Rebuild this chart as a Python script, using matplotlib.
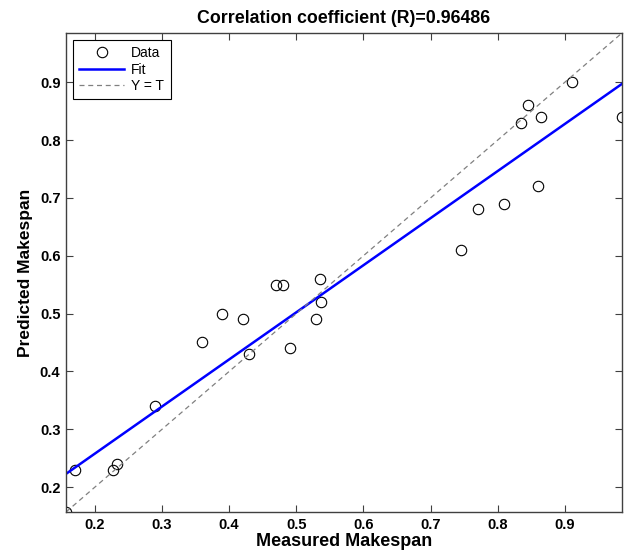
import numpy as np
import matplotlib
matplotlib.use("Agg")
import matplotlib.pyplot as plt

plt.rcParams['font.family'] = ['Liberation Sans', 'DejaVu Sans']

measured = [0.157, 0.17, 0.227, 0.233, 0.29, 0.36, 0.39, 0.42, 0.43, 0.47, 0.48,
            0.49, 0.53, 0.535, 0.537, 0.745, 0.77, 0.81, 0.835, 0.845, 0.865, 0.86,
            0.91, 0.985]
predicted = [0.157, 0.23, 0.23, 0.24, 0.34, 0.45, 0.50, 0.49, 0.43, 0.55, 0.55,
             0.44, 0.49, 0.56, 0.52, 0.61, 0.68, 0.69, 0.83, 0.86, 0.84, 0.72,
             0.90, 0.84]
ticks = [0.2, 0.3, 0.4, 0.5, 0.6, 0.7, 0.8, 0.9]
title = "Correlation coefficient (R)=0.96486"

x = np.array(measured)
y = np.array(predicted)
lo = min(x.min(), y.min())
hi = max(x.max(), y.max())
slope, intercept = np.polyfit(x, y, 1)

fig = plt.figure(figsize=(6.25, 5.51), dpi=100)
ax = fig.add_axes([66 / 625, 1 - 512 / 551, 556 / 625, 479 / 551])

ax.plot(x, y, 'o', mfc='none', mec='black', ms=7.5, mew=0.8, label='Data')
xx = np.array([lo, hi])
ax.plot(xx, slope * xx + intercept, color='#0000ff', lw=1.8, label='Fit')
ax.plot(xx, xx, '--', color='#808080', lw=0.9, dashes=(4, 3), label='Y = T')

ax.set_xlim(lo, hi)
ax.set_ylim(lo, hi)
ax.set_xticks(ticks)
ax.set_yticks(ticks)
ax.set_xticklabels([f"{t:.1f}" for t in ticks], fontweight='bold', fontsize=10.5)
ax.set_yticklabels([f"{t:.1f}" for t in ticks], fontweight='bold', fontsize=10.5)
ax.tick_params(direction='in', top=True, right=True, length=5, width=0.8,
               colors='#404040', labelcolor='black', pad=4)
for s in ax.spines.values():
    s.set_color('#404040')
    s.set_linewidth(1.0)

ax.set_xlabel('Measured Makespan', fontweight='bold', fontsize=13, labelpad=1)
ax.set_ylabel('Predicted Makespan', fontweight='bold', fontsize=12.5, labelpad=5)
ax.set_title(title, fontweight='bold', fontsize=12.8, pad=7)

leg = ax.legend(loc='upper left', fontsize=10, frameon=True, fancybox=False,
                edgecolor='black', framealpha=1, borderpad=0.45, handlelength=3.25,
                handletextpad=0.5, labelspacing=0.18, borderaxespad=0.5)
leg.get_frame().set_linewidth(0.8)

fig.savefig('out.png', dpi=100)
